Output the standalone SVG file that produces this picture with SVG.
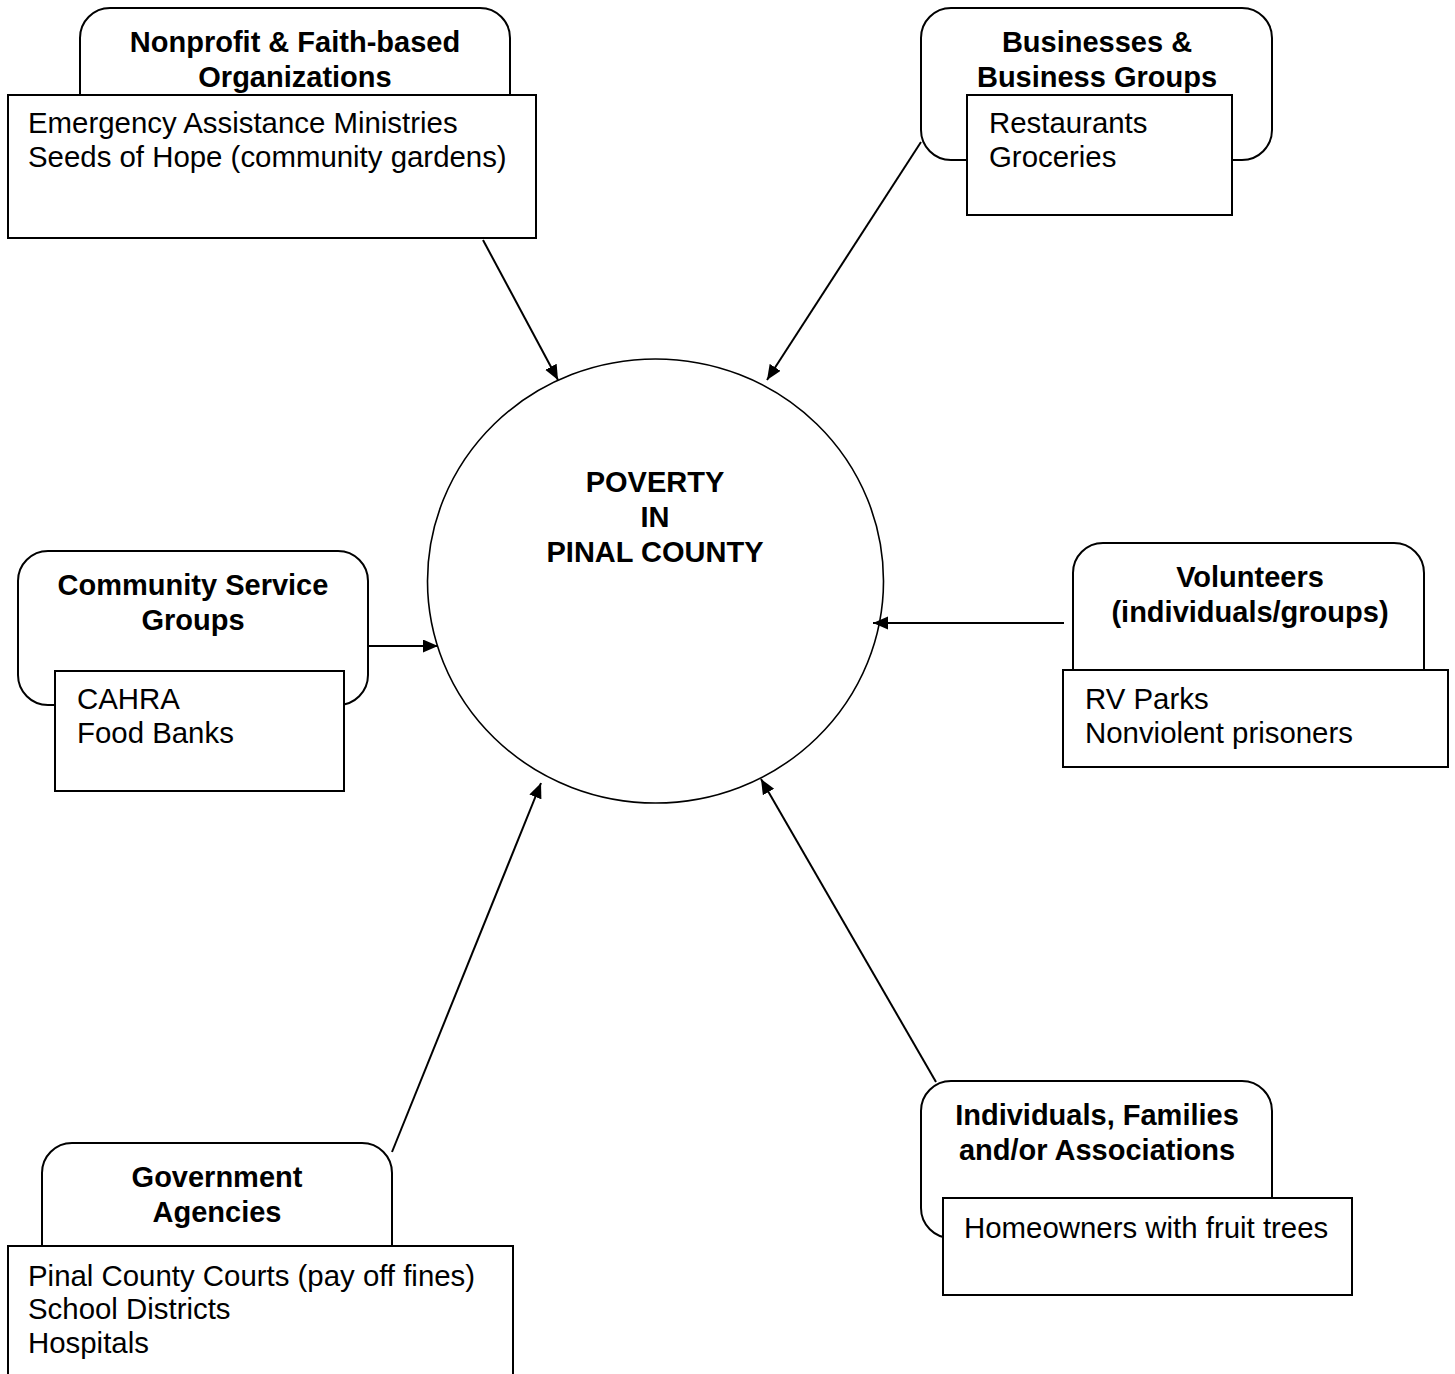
<svg xmlns="http://www.w3.org/2000/svg" width="1455" height="1374" viewBox="0 0 1455 1374">
  <style>
    .frame { fill: #fff; stroke: #000; stroke-width: 2; }
    .list { fill: #fff; stroke: #000; stroke-width: 2; }
    .hub { fill: #fff; stroke: #000; stroke-width: 1.6; }
    .title { font-family: "Liberation Sans", Arial, sans-serif; font-size: 29px; font-weight: bold; text-anchor: middle; fill: #000; }
    .item { font-family: "Liberation Sans", Arial, sans-serif; font-size: 29.4px; fill: #000; }
    .link { stroke: #000; stroke-width: 2; fill: none; marker-end: url(#head); }
  </style>
  <defs>
    <marker id="head" markerUnits="userSpaceOnUse" markerWidth="16" markerHeight="14" refX="15" refY="6.5" orient="auto">
      <path d="M0,0 L15,6.5 L0,13 z" fill="#000"/>
    </marker>
  </defs>
  <rect width="1455" height="1374" fill="#fff"/>

  <!-- central topic -->
  <g id="poverty">
    <ellipse class="hub" cx="655.5" cy="581" rx="228" ry="222"/>
    <text class="title" x="655" y="492">POVERTY</text>
    <text class="title" x="655" y="527">IN</text>
    <text class="title" x="655" y="562">PINAL COUNTY</text>
  </g>

  <!-- connectors -->
  <g id="connectors">
    <line class="link" x1="483" y1="240" x2="558" y2="380"/>
    <line class="link" x1="921" y1="142" x2="767" y2="380"/>
    <line class="link" x1="368" y1="646" x2="438" y2="646"/>
    <line class="link" x1="1064" y1="623" x2="873" y2="623"/>
    <line class="link" x1="392" y1="1152" x2="541" y2="783"/>
    <line class="link" x1="936" y1="1082" x2="761" y2="779"/>
  </g>

  <g id="nonprofit">
    <rect class="frame" x="80" y="8" width="430" height="160" rx="30"/>
    <text class="title" x="295" y="52">Nonprofit &amp; Faith-based</text>
    <text class="title" x="295" y="87">Organizations</text>
    <rect class="list" x="8" y="95" width="528" height="143"/>
    <text class="item" x="28" y="133">Emergency Assistance Ministries</text>
    <text class="item" x="28" y="167">Seeds of Hope (community gardens)</text>
  </g>

  <g id="businesses">
    <rect class="frame" x="921" y="8" width="351" height="152" rx="30"/>
    <text class="title" x="1097" y="52">Businesses &amp;</text>
    <text class="title" x="1097" y="87">Business Groups</text>
    <rect class="list" x="967" y="95" width="265" height="120"/>
    <text class="item" x="989" y="133">Restaurants</text>
    <text class="item" x="989" y="167">Groceries</text>
  </g>

  <g id="community">
    <rect class="frame" x="18" y="551" width="350" height="154" rx="30"/>
    <text class="title" x="193" y="595">Community Service</text>
    <text class="title" x="193" y="630">Groups</text>
    <rect class="list" x="55" y="671" width="289" height="120"/>
    <text class="item" x="77" y="709">CAHRA</text>
    <text class="item" x="77" y="743">Food Banks</text>
  </g>

  <g id="volunteers">
    <rect class="frame" x="1073" y="543" width="351" height="160" rx="30"/>
    <text class="title" x="1250" y="587">Volunteers</text>
    <text class="title" x="1250" y="622">(individuals/groups)</text>
    <rect class="list" x="1063" y="670" width="385" height="97"/>
    <text class="item" x="1085" y="709">RV Parks</text>
    <text class="item" x="1085" y="743">Nonviolent prisoners</text>
  </g>

  <g id="government">
    <rect class="frame" x="42" y="1143" width="350" height="160" rx="30"/>
    <text class="title" x="217" y="1187">Government</text>
    <text class="title" x="217" y="1222">Agencies</text>
    <rect class="list" x="8" y="1246" width="505" height="140"/>
    <text class="item" x="28" y="1286">Pinal County Courts (pay off fines)</text>
    <text class="item" x="28" y="1319">School Districts</text>
    <text class="item" x="28" y="1353">Hospitals</text>
  </g>

  <g id="individuals">
    <rect class="frame" x="921" y="1081" width="351" height="157" rx="30"/>
    <text class="title" x="1097" y="1125">Individuals, Families</text>
    <text class="title" x="1097" y="1160">and/or Associations</text>
    <rect class="list" x="943" y="1198" width="409" height="97"/>
    <text class="item" x="964" y="1238">Homeowners with fruit trees</text>
  </g>
</svg>
